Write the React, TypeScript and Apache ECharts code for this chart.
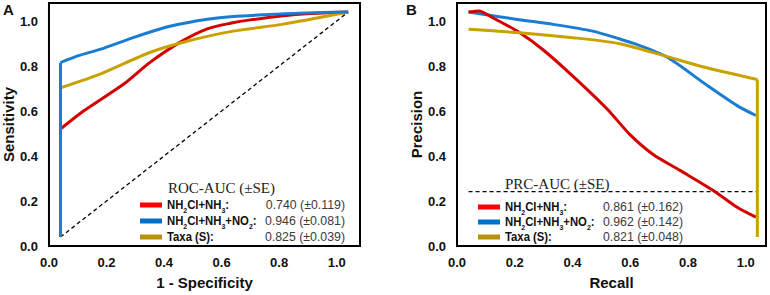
import React, { useEffect, useRef } from "react";
import * as echarts from "echarts";

// ---- Data ----
const tickValues = [0, 0.2, 0.4, 0.6, 0.8, 1.0];

// Panel A: ROC curves [1 - Specificity, Sensitivity]
const rocRed = [[0.04, 0.04], [0.04, 0.52], [0.12, 0.6], [0.26, 0.72], [0.35, 0.815], [0.455, 0.905], [0.55, 0.965], [0.63, 0.99], [0.7, 1.005], [0.87, 1.03], [1.04, 1.04]];
const rocBlue = [[0.04, 0.04], [0.04, 0.815], [0.1, 0.845], [0.18, 0.875], [0.29, 0.925], [0.4, 0.97], [0.47, 0.99], [0.55, 1.008], [0.64, 1.02], [0.75, 1.028], [0.87, 1.035], [1.04, 1.04]];
const rocGold = [[0.04, 0.04], [0.04, 0.703], [0.18, 0.765], [0.35, 0.86], [0.48, 0.91], [0.64, 0.955], [0.81, 0.985], [1.04, 1.04]];
const rocDiag = [[0.04, 0.04], [1.04, 1.04]];

// Panel B: PR curves [Recall, Precision]
const prRed = [[0.04, 1.04], [0.075, 1.045], [0.13, 1.01], [0.215, 0.95], [0.3, 0.87], [0.401, 0.755], [0.519, 0.61], [0.599, 0.495], [0.678, 0.408], [0.772, 0.336], [0.886, 0.248], [0.97, 0.172], [1.035, 0.128]];
const prBlue = [[0.04, 1.04], [0.215, 1.006], [0.333, 0.985], [0.47, 0.955], [0.564, 0.92], [0.62, 0.897], [0.727, 0.84], [0.865, 0.715], [0.97, 0.624], [1.035, 0.58]];
const prGold = [[0.04, 0.963], [0.215, 0.948], [0.4, 0.926], [0.56, 0.9], [0.713, 0.847], [0.865, 0.792], [1.04, 0.74], [1.04, 0.04]];
const prBaseline = [[0.04, 0.242], [1.04, 0.242]];

const legendNames = [
  "{b|NH}{s|2}{b|Cl+NH}{s|3}{b|:}",
  "{b|NH}{s|2}{b|Cl+NH}{s|3}{b|+NO}{s|2}{b|:}",
  "{b|Taxa (S):}",
];
const rocValues = ["0.740 (±0.119)", "0.946 (±0.081)", "0.825 (±0.039)"];
const prcValues = ["0.861 (±0.162)", "0.962 (±0.142)", "0.821 (±0.048)"];

const RED = "#d40000";
const BLUE = "#1b7cd3";
const GOLD = "#c9a100";
const SW_RED = "#ff0000";
const SW_BLUE = "#0070c8";
const SW_GOLD = "#b8900a";

const SANS = "'Liberation Sans', Arial, sans-serif";
const SERIF = "'Liberation Serif', 'Times New Roman', serif";

export default function App() {
  const ref = useRef<HTMLDivElement>(null);
  useEffect(() => {
    if (!ref.current) return;
    const chart = echarts.init(ref.current, null, { renderer: "svg" });

    const rich = {
      b: { fontFamily: SANS, fontWeight: "bold", fontSize: 13, lineHeight: 18, verticalAlign: "middle", fill: "#111" },
      s: { fontFamily: SANS, fontWeight: "bold", fontSize: 8, lineHeight: 18, verticalAlign: "bottom", fill: "#111" },
    };

    const legend = (sx: number, nx: number, vx: number, ys: number[], titleX: number, titleY: number, title: string, vals: string[]) => {
      const sw = [SW_RED, SW_BLUE, SW_GOLD];
      const els: any[] = [
        { type: "text", x: titleX, y: titleY, style: { text: title, font: `15px ${SERIF}`, fill: "#222", verticalAlign: "middle" } },
      ];
      ys.forEach((y, i) => {
        els.push({ type: "line", shape: { x1: sx, y1: y, x2: sx + 22, y2: y }, style: { stroke: sw[i], lineWidth: 5 } });
        els.push({ type: "text", x: nx, y, scaleX: 0.87, style: { text: legendNames[i], rich, verticalAlign: "middle", align: "left" } });
        els.push({ type: "text", x: vx, y, scaleX: 0.95, style: { text: vals[i], font: `13px ${SANS}`, fill: "#3a3a3a", verticalAlign: "middle", align: "right" } });
      });
      return els;
    };

    const axisLabel = { customValues: tickValues, fontFamily: SANS, fontWeight: "bold" as const, fontSize: 13, color: "#111", formatter: (v: number) => v.toFixed(1) };

    const xAxisBase = (gridIndex: number, name: string, max: number) => ({
      type: "value" as const, gridIndex, min: 0, max, name, nameLocation: "middle" as const, nameGap: 29,
      nameTextStyle: { fontFamily: SANS, fontWeight: "bold" as const, fontSize: 15, color: "#111" },
      axisLine: { show: false }, axisTick: { show: false }, splitLine: { show: false },
      axisLabel: { ...axisLabel, margin: 10 },
    });
    const yAxisBase = (gridIndex: number, name: string) => ({
      type: "value" as const, gridIndex, min: 0, max: 1.08, name, nameLocation: "middle" as const, nameGap: 31,
      nameTextStyle: { fontFamily: SANS, fontWeight: "bold" as const, fontSize: 15, color: "#111" },
      axisLine: { show: false }, axisTick: { show: false }, splitLine: { show: false },
      axisLabel: { ...axisLabel, margin: 11 },
    });

    const line = (data: number[][], color: string, x: number, y: number, width = 3, type: any = "solid", smooth: any = false) => ({
      type: "line" as const, xAxisIndex: x, yAxisIndex: y, data, showSymbol: false, symbol: "none", smooth,
      lineStyle: { color, width, type, cap: "butt", join: "round" }, silent: true,
    });
    // curve with a vertical stem at the start: stem unsmoothed, body smoothed
    const stemStart = (data: number[][], color: string, x: number, y: number) => [
      line(data.slice(0, 2), color, x, y),
      line(data.slice(1), color, x, y, 3, "solid", 0.25),
    ];
    const stemEnd = (data: number[][], color: string, x: number, y: number) => [
      line(data.slice(0, data.length - 1), color, x, y, 3, "solid", 0.25),
      line(data.slice(data.length - 2), color, x, y),
    ];

    chart.setOption({
      animation: false,
      backgroundColor: "#fff",
      grid: [
        { left: 48, top: 3, width: 312, height: 246, show: true, borderColor: "#000", borderWidth: 2, backgroundColor: "transparent" },
        { left: 457, top: 3, width: 309, height: 246, show: true, borderColor: "#000", borderWidth: 2, backgroundColor: "transparent" },
      ],
      xAxis: [xAxisBase(0, "1 - Specificity", 1.081), xAxisBase(1, "Recall", 1.07)],
      yAxis: [yAxisBase(0, "Sensitivity"), yAxisBase(1, "Precision")],
      series: [
        line(rocDiag, "#000", 0, 0, 1.3, [4, 3]),
        ...stemStart(rocRed, RED, 0, 0),
        ...stemStart(rocGold, GOLD, 0, 0),
        ...stemStart(rocBlue, BLUE, 0, 0),
        line(prBaseline, "#000", 1, 1, 1.3, [4, 3]),
        line(prBlue, BLUE, 1, 1, 3, "solid", 0.25),
        line(prRed, RED, 1, 1, 3, "solid", 0.25),
        ...stemEnd(prGold, GOLD, 1, 1),
      ],
      graphic: [
        { type: "text", x: 3, y: 2, style: { text: "A", font: `bold 15px ${SANS}`, fill: "#111" } },
        { type: "text", x: 406, y: 2, style: { text: "B", font: `bold 15px ${SANS}`, fill: "#111" } },
        ...legend(140, 167, 345, [205, 221, 237], 168, 188, "ROC-AUC (±SE)", rocValues),
        ...legend(478, 505, 683, [207, 222, 237], 505, 184, "PRC-AUC (±SE)", prcValues),
      ],
    });
    return () => chart.dispose();
  }, []);
  return <div ref={ref} style={{ width: 770, height: 295, position: "absolute", left: 0, top: 0 }} />;
}
